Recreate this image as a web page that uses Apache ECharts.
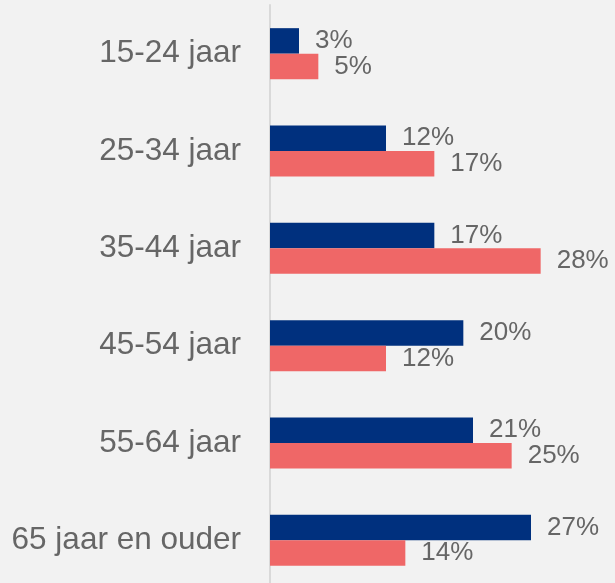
<!DOCTYPE html>
<html>
<head>
<meta charset="utf-8">
<script src="https://cdn.jsdelivr.net/npm/echarts@6/dist/echarts.min.js"></script>
<style>
  html, body { margin: 0; padding: 0; background: #f2f2f2; overflow: hidden; }
  /* canvas is a little taller than the window so the last band runs past the bottom edge */
  #chart { width: 615px; height: 600px; }
</style>
</head>
<body>
<div id="chart"></div>
<script>
// Age groups, top to bottom
const categories = ['15-24 jaar', '25-34 jaar', '35-44 jaar', '45-54 jaar', '55-64 jaar', '65 jaar en ouder'];
// Share per age group (percent)
const seriesBlue = [3, 12, 17, 20, 21, 27];
const seriesRed = [5, 17, 28, 12, 25, 14];

const chart = echarts.init(document.getElementById('chart'));

const labelStyle = {
  show: true,
  position: 'right',
  distance: 16,
  formatter: '{c}%',
  color: '#666666',
  fontFamily: 'Liberation Sans, Arial, sans-serif',
  fontSize: 26
};

chart.setOption({
  backgroundColor: '#f2f2f2',
  animation: false,
  grid: { left: 270, top: 5, width: 290, height: 584 },
  xAxis: {
    type: 'value',
    min: 0,
    max: 30,
    show: false
  },
  yAxis: {
    type: 'category',
    data: categories,
    inverse: true,
    axisLine: { show: true, lineStyle: { color: '#d9d9d9', width: 2 } },
    axisTick: { show: false },
    axisLabel: {
      margin: 29,
      color: '#666666',
      fontFamily: 'Liberation Sans, Arial, sans-serif',
      fontSize: 31.5
    },
    splitLine: { show: false }
  },
  series: [
    {
      type: 'bar',
      data: seriesBlue,
      barWidth: 25.5,
      barGap: '0%',
      itemStyle: { color: '#00307e' },
      label: labelStyle
    },
    {
      type: 'bar',
      data: seriesRed,
      barWidth: 25.5,
      barGap: '0%',
      itemStyle: { color: '#ef6767' },
      label: labelStyle
    }
  ]
});
</script>
</body>
</html>
